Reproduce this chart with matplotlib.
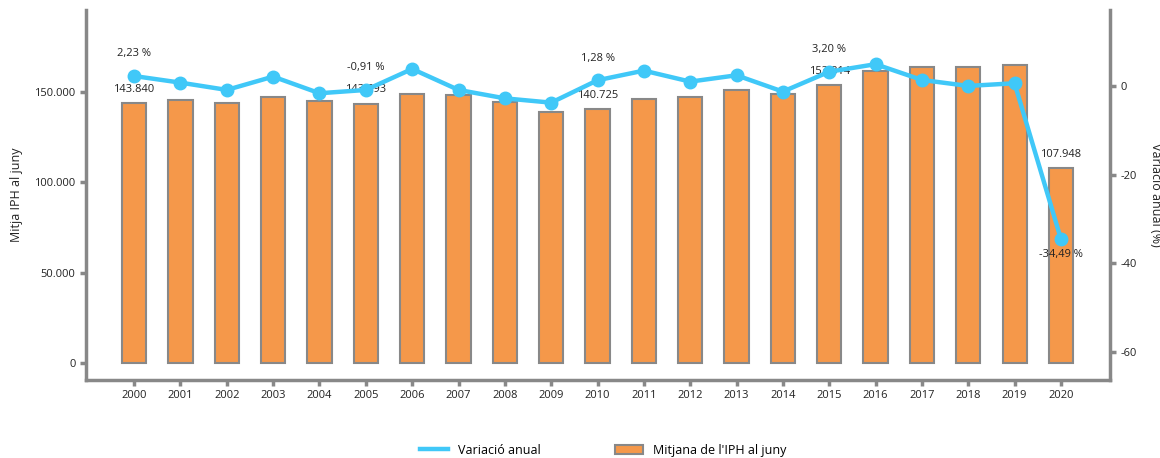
import matplotlib.pyplot as plt
from matplotlib.lines import Line2D
from matplotlib.patches import Patch

plt.rcParams['font.family'] = ['Open Sans', 'DejaVu Sans']
plt.rcParams['axes.unicode_minus'] = False

years = [str(y) for y in range(2000, 2021)]
iph = [143840, 145600, 143950, 147100, 145000, 143693, 149100, 148200, 144500, 139000,
       140725, 146000, 147450, 151000, 148950, 153814, 161500, 163900, 163900, 165000, 107948]
variacio = [2.23, 0.74, -0.9, 2.1, -1.65, -0.91, 3.83, -0.9, -2.8, -3.77,
            1.28, 3.45, 0.97, 2.4, -1.28, 3.20, 4.9, 1.35, 0.0, 0.6, -34.49]
labelled = [0, 5, 10, 15, 20]

gray = '#888888'
orange = '#F5984A'
cyan = '#40C8F8'


def fmt_int(v):
    return f'{v:,}'.replace(',', '.')


def fmt_pct(v):
    return f'{v:.2f} %'.replace('.', ',')


fig = plt.figure(figsize=(11.6, 4.58), dpi=100)
ax = fig.add_axes([0.0741, 0.1703, 0.8828, 0.8077])
ax2 = ax.twinx()

x = range(len(years))
ax.bar(x, iph, width=0.52, color=orange, edgecolor=gray, linewidth=1.5)
ax2.plot(x, variacio, color=cyan, linewidth=3.2, marker='o', markersize=9)

for i in labelled:
    ax.annotate(fmt_int(iph[i]), (i, iph[i]), xytext=(0, 6), textcoords='offset points',
                ha='center', va='bottom', fontsize=8, color='#222222')
    dy = -7 if variacio[i] < -10 else 12
    ax2.annotate(fmt_pct(variacio[i]), (i, variacio[i]), xytext=(0, dy), textcoords='offset points',
                 ha='center', va='top' if dy < 0 else 'bottom', fontsize=8, color='#222222')

ax.set_xlim(-1.04, 21.06)
ax.set_ylim(-9400, 195450)
ax2.set_ylim(-66.3, 17.1)
ax.set_xticks(list(x))
ax.set_xticklabels(years)
ax.set_yticks([0, 50000, 100000, 150000])
ax.set_yticklabels([fmt_int(v) for v in [0, 50000, 100000, 150000]])
ax2.set_yticks([0, -20, -40, -60])

for a in (ax, ax2):
    for s in a.spines.values():
        s.set_visible(False)
    a.tick_params(colors=gray, width=2.5, length=4, labelsize=8, labelcolor='#222222')
ax.spines['left'].set_visible(True)
ax.spines['bottom'].set_visible(True)
ax2.spines['right'].set_visible(True)
for s in (ax.spines['left'], ax.spines['bottom'], ax2.spines['right']):
    s.set_color(gray)
    s.set_linewidth(2.5)

ax.set_ylabel("Mitja IPH al juny", fontsize=9, color='#222222', labelpad=8)
ax2.set_ylabel("Variació anual (%)", fontsize=9, color='#222222', rotation=270, labelpad=18)

handles = [Line2D([0], [0], color=cyan, linewidth=3.2),
           Patch(facecolor=orange, edgecolor=gray, linewidth=1.5)]
fig.legend(handles, ['Variació anual', "Mitjana de l'IPH al juny"], loc='center',
           bbox_to_anchor=(0.52, 0.017), ncol=2, frameon=False, fontsize=9,
           columnspacing=6, handlelength=2.2)

fig.savefig('out.png', dpi=100)
